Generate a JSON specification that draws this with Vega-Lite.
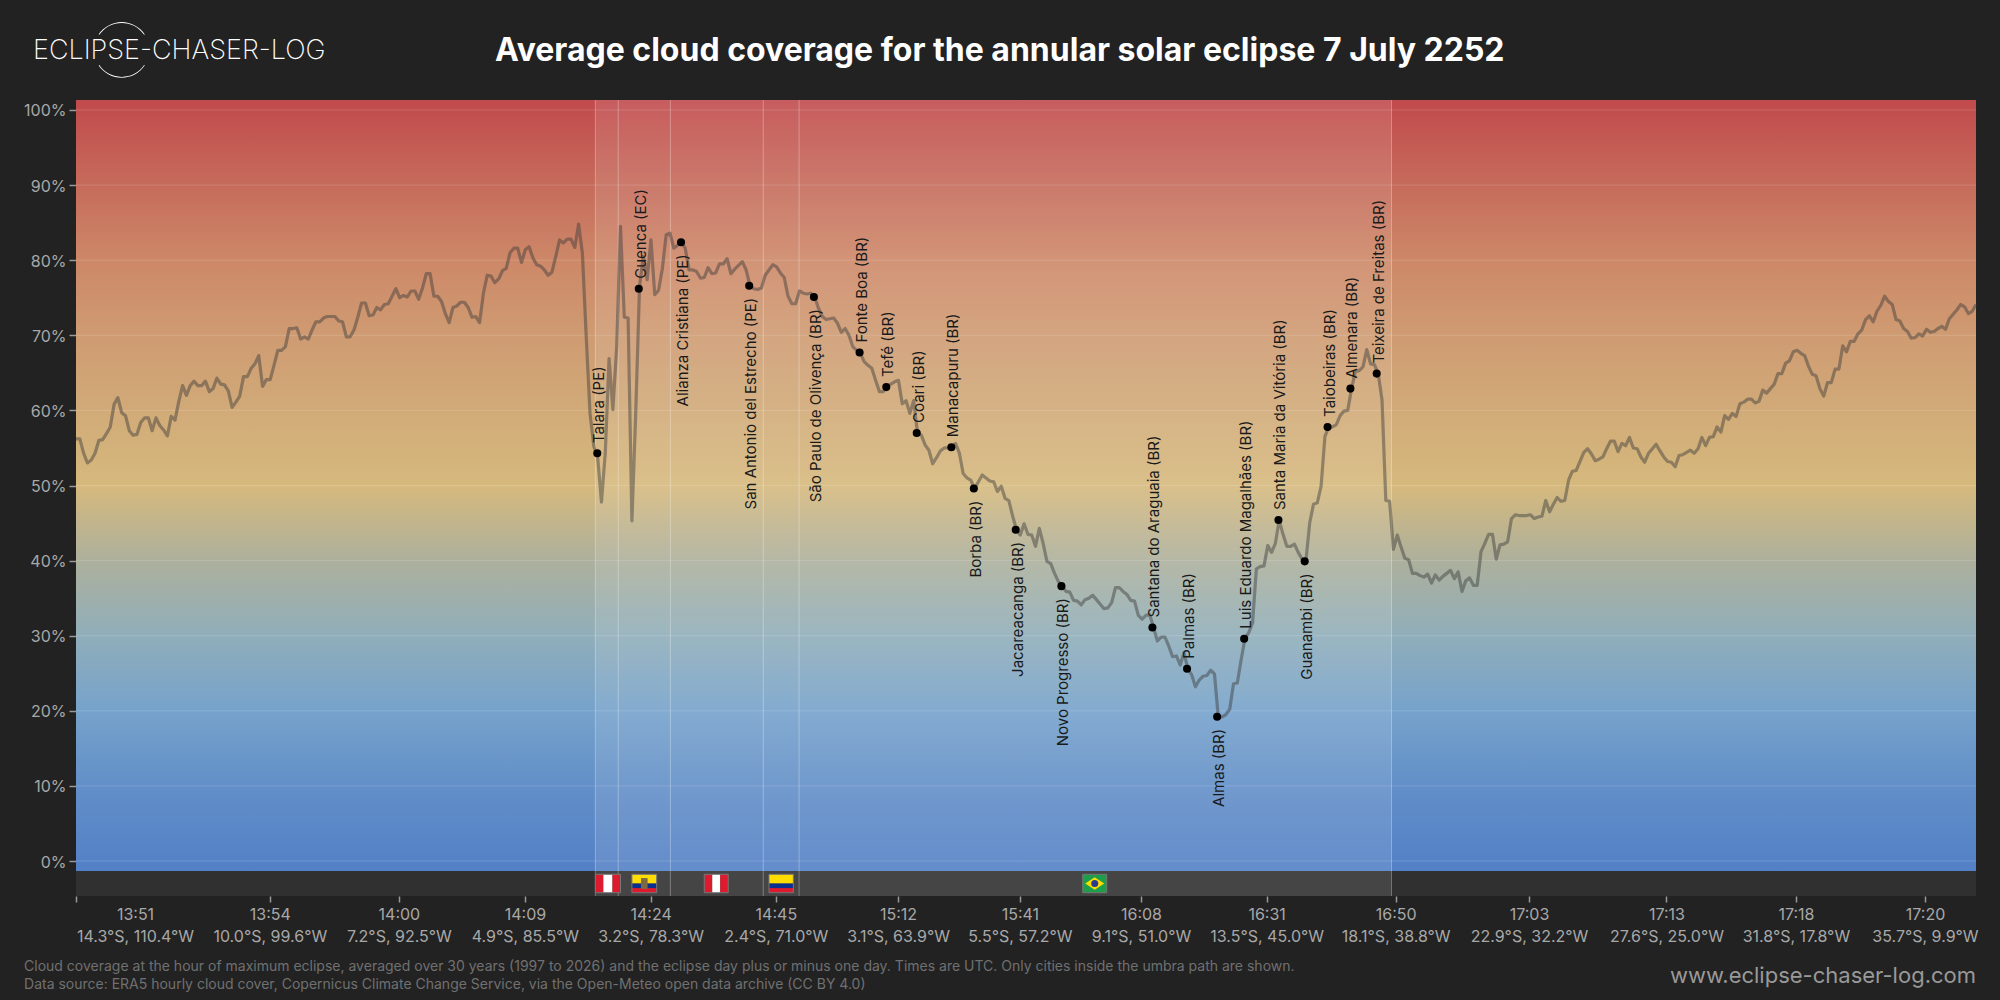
{"$schema":"https://vega.github.io/schema/vega-lite/v6.json","width":1900,"height":771,"autosize":{"type":"none"},"padding":{"left":76,"top":100,"right":24,"bottom":129},"background":"#222222","datasets":{"cloud":[{"i":0,"v":56.2},{"i":1,"v":56.2},{"i":2,"v":54.3},{"i":3,"v":53.0},{"i":4,"v":53.4},{"i":5,"v":54.3},{"i":6,"v":56.0},{"i":7,"v":56.1},{"i":8,"v":56.9},{"i":9,"v":57.8},{"i":10,"v":60.8},{"i":11,"v":61.7},{"i":12,"v":59.7},{"i":13,"v":59.3},{"i":14,"v":57.3},{"i":15,"v":56.7},{"i":16,"v":56.8},{"i":17,"v":58.4},{"i":18,"v":59.0},{"i":19,"v":59.0},{"i":20,"v":57.3},{"i":21,"v":59.0},{"i":22,"v":58.0},{"i":23,"v":57.4},{"i":24,"v":56.6},{"i":25,"v":59.2},{"i":26,"v":58.7},{"i":27,"v":61.2},{"i":28,"v":63.3},{"i":29,"v":62.0},{"i":30,"v":63.3},{"i":31,"v":63.9},{"i":32,"v":63.3},{"i":33,"v":63.3},{"i":34,"v":63.9},{"i":35,"v":62.5},{"i":36,"v":62.9},{"i":37,"v":64.3},{"i":38,"v":63.5},{"i":39,"v":63.4},{"i":40,"v":62.6},{"i":41,"v":60.4},{"i":42,"v":61.1},{"i":43,"v":61.9},{"i":44,"v":64.5},{"i":45,"v":64.5},{"i":46,"v":65.6},{"i":47,"v":66.2},{"i":48,"v":67.3},{"i":49,"v":63.2},{"i":50,"v":64.1},{"i":51,"v":64.1},{"i":52,"v":66.0},{"i":53,"v":68.0},{"i":54,"v":68.0},{"i":55,"v":68.5},{"i":56,"v":70.9},{"i":57,"v":70.9},{"i":58,"v":71.0},{"i":59,"v":69.5},{"i":60,"v":69.8},{"i":61,"v":69.5},{"i":62,"v":70.7},{"i":63,"v":71.8},{"i":64,"v":71.8},{"i":65,"v":72.3},{"i":66,"v":72.5},{"i":67,"v":72.5},{"i":68,"v":72.5},{"i":69,"v":71.9},{"i":70,"v":71.8},{"i":71,"v":69.8},{"i":72,"v":69.8},{"i":73,"v":70.7},{"i":74,"v":72.4},{"i":75,"v":74.3},{"i":76,"v":74.3},{"i":77,"v":72.6},{"i":78,"v":72.7},{"i":79,"v":73.7},{"i":80,"v":73.4},{"i":81,"v":74.1},{"i":82,"v":74.2},{"i":83,"v":75.2},{"i":84,"v":76.2},{"i":85,"v":75.0},{"i":86,"v":75.3},{"i":87,"v":75.1},{"i":88,"v":75.9},{"i":89,"v":75.9},{"i":90,"v":74.8},{"i":91,"v":76.3},{"i":92,"v":78.2},{"i":93,"v":78.2},{"i":94,"v":75.2},{"i":95,"v":75.2},{"i":96,"v":74.5},{"i":97,"v":72.9},{"i":98,"v":71.7},{"i":99,"v":73.7},{"i":100,"v":73.9},{"i":101,"v":74.4},{"i":102,"v":74.4},{"i":103,"v":73.7},{"i":104,"v":72.4},{"i":105,"v":72.5},{"i":106,"v":71.7},{"i":107,"v":75.6},{"i":108,"v":78.0},{"i":109,"v":77.9},{"i":110,"v":77.0},{"i":111,"v":77.5},{"i":112,"v":78.6},{"i":113,"v":78.9},{"i":114,"v":81.0},{"i":115,"v":81.6},{"i":116,"v":81.6},{"i":117,"v":79.7},{"i":118,"v":81.4},{"i":119,"v":81.8},{"i":120,"v":80.3},{"i":121,"v":79.4},{"i":122,"v":79.2},{"i":123,"v":78.7},{"i":124,"v":78.0},{"i":125,"v":78.4},{"i":126,"v":80.5},{"i":127,"v":82.7},{"i":128,"v":82.3},{"i":129,"v":82.8},{"i":130,"v":82.8},{"i":131,"v":81.7},{"i":132,"v":84.8},{"i":133,"v":80.9},{"i":134,"v":69.8},{"i":135,"v":59.6},{"i":136,"v":55.2},{"i":137,"v":53.8},{"i":138,"v":47.8},{"i":139,"v":54.3},{"i":140,"v":66.9},{"i":141,"v":60.1},{"i":142,"v":68.5},{"i":143,"v":84.5},{"i":144,"v":72.4},{"i":145,"v":72.3},{"i":146,"v":45.3},{"i":147,"v":59.6},{"i":148,"v":76.5},{"i":149,"v":80.5},{"i":150,"v":77.4},{"i":151,"v":82.7},{"i":152,"v":75.4},{"i":153,"v":76.0},{"i":154,"v":78.9},{"i":155,"v":83.4},{"i":156,"v":83.6},{"i":157,"v":81.6},{"i":158,"v":82.0},{"i":159,"v":82.4},{"i":160,"v":81.6},{"i":161,"v":78.7},{"i":162,"v":78.7},{"i":163,"v":78.5},{"i":164,"v":77.6},{"i":165,"v":77.7},{"i":166,"v":79.0},{"i":167,"v":78.2},{"i":168,"v":78.3},{"i":169,"v":79.5},{"i":170,"v":79.5},{"i":171,"v":80.2},{"i":172,"v":78.2},{"i":173,"v":78.8},{"i":174,"v":79.3},{"i":175,"v":79.8},{"i":176,"v":78.7},{"i":177,"v":76.6},{"i":178,"v":76.2},{"i":179,"v":76.1},{"i":180,"v":76.3},{"i":181,"v":78.0},{"i":182,"v":78.7},{"i":183,"v":79.4},{"i":184,"v":79.1},{"i":185,"v":78.3},{"i":186,"v":77.7},{"i":187,"v":75.2},{"i":188,"v":74.2},{"i":189,"v":74.2},{"i":190,"v":75.9},{"i":191,"v":75.6},{"i":192,"v":75.5},{"i":193,"v":75.6},{"i":194,"v":75.1},{"i":195,"v":73.6},{"i":196,"v":72.5},{"i":197,"v":72.1},{"i":198,"v":72.2},{"i":199,"v":72.3},{"i":200,"v":71.6},{"i":201,"v":70.4},{"i":202,"v":70.9},{"i":203,"v":70.0},{"i":204,"v":68.5},{"i":205,"v":68.0},{"i":206,"v":67.6},{"i":207,"v":66.5},{"i":208,"v":66.0},{"i":209,"v":65.6},{"i":210,"v":64.0},{"i":211,"v":62.5},{"i":212,"v":62.5},{"i":213,"v":63.2},{"i":214,"v":63.5},{"i":215,"v":63.8},{"i":216,"v":64.0},{"i":217,"v":60.9},{"i":218,"v":61.3},{"i":219,"v":59.6},{"i":220,"v":61.3},{"i":221,"v":57.0},{"i":222,"v":56.7},{"i":223,"v":55.4},{"i":224,"v":54.7},{"i":225,"v":52.9},{"i":226,"v":53.7},{"i":227,"v":54.6},{"i":228,"v":55.0},{"i":229,"v":55.0},{"i":230,"v":55.1},{"i":231,"v":55.6},{"i":232,"v":54.3},{"i":233,"v":51.6},{"i":234,"v":51.0},{"i":235,"v":50.7},{"i":236,"v":49.6},{"i":237,"v":50.5},{"i":238,"v":51.4},{"i":239,"v":51.0},{"i":240,"v":50.6},{"i":241,"v":50.5},{"i":242,"v":49.2},{"i":243,"v":49.9},{"i":244,"v":48.3},{"i":245,"v":48.0},{"i":246,"v":45.9},{"i":247,"v":44.1},{"i":248,"v":43.4},{"i":249,"v":44.9},{"i":250,"v":43.5},{"i":251,"v":43.4},{"i":252,"v":41.9},{"i":253,"v":44.3},{"i":254,"v":42.3},{"i":255,"v":39.9},{"i":256,"v":39.6},{"i":257,"v":38.3},{"i":258,"v":37.2},{"i":259,"v":36.6},{"i":260,"v":35.9},{"i":261,"v":35.8},{"i":262,"v":34.7},{"i":263,"v":34.6},{"i":264,"v":34.1},{"i":265,"v":34.8},{"i":266,"v":35.0},{"i":267,"v":35.4},{"i":268,"v":34.8},{"i":269,"v":34.2},{"i":270,"v":33.6},{"i":271,"v":33.7},{"i":272,"v":34.4},{"i":273,"v":36.4},{"i":274,"v":36.4},{"i":275,"v":35.9},{"i":276,"v":35.5},{"i":277,"v":34.7},{"i":278,"v":34.6},{"i":279,"v":32.7},{"i":280,"v":32.2},{"i":281,"v":32.7},{"i":282,"v":32.8},{"i":283,"v":31.1},{"i":284,"v":29.3},{"i":285,"v":29.8},{"i":286,"v":29.8},{"i":287,"v":28.6},{"i":288,"v":27.2},{"i":289,"v":27.3},{"i":290,"v":26.1},{"i":291,"v":27.7},{"i":292,"v":25.6},{"i":293,"v":24.8},{"i":294,"v":23.2},{"i":295,"v":24.1},{"i":296,"v":24.6},{"i":297,"v":24.7},{"i":298,"v":25.4},{"i":299,"v":24.9},{"i":300,"v":19.2},{"i":301,"v":19.2},{"i":302,"v":19.5},{"i":303,"v":20.2},{"i":304,"v":23.6},{"i":305,"v":23.7},{"i":306,"v":26.8},{"i":307,"v":29.6},{"i":308,"v":30.4},{"i":309,"v":31.7},{"i":310,"v":38.9},{"i":311,"v":39.2},{"i":312,"v":39.3},{"i":313,"v":42.0},{"i":314,"v":41.1},{"i":315,"v":42.3},{"i":316,"v":45.4},{"i":317,"v":43.5},{"i":318,"v":41.9},{"i":319,"v":41.9},{"i":320,"v":42.2},{"i":321,"v":41.1},{"i":322,"v":40.2},{"i":323,"v":39.9},{"i":324,"v":45.0},{"i":325,"v":47.5},{"i":326,"v":47.7},{"i":327,"v":49.9},{"i":328,"v":56.5},{"i":329,"v":57.8},{"i":330,"v":57.8},{"i":331,"v":58.1},{"i":332,"v":59.3},{"i":333,"v":59.9},{"i":334,"v":60.0},{"i":335,"v":62.9},{"i":336,"v":65.2},{"i":337,"v":65.3},{"i":338,"v":65.8},{"i":339,"v":68.1},{"i":340,"v":66.2},{"i":341,"v":66.1},{"i":342,"v":64.9},{"i":343,"v":61.4},{"i":344,"v":48.0},{"i":345,"v":47.9},{"i":346,"v":41.5},{"i":347,"v":43.4},{"i":348,"v":41.8},{"i":349,"v":40.3},{"i":350,"v":40.1},{"i":351,"v":38.3},{"i":352,"v":38.3},{"i":353,"v":38.0},{"i":354,"v":37.8},{"i":355,"v":38.2},{"i":356,"v":37.0},{"i":357,"v":38.1},{"i":358,"v":37.4},{"i":359,"v":37.9},{"i":360,"v":38.3},{"i":361,"v":38.7},{"i":362,"v":37.6},{"i":363,"v":38.5},{"i":364,"v":35.9},{"i":365,"v":37.3},{"i":366,"v":37.7},{"i":367,"v":36.7},{"i":368,"v":36.7},{"i":369,"v":41.2},{"i":370,"v":42.3},{"i":371,"v":43.5},{"i":372,"v":43.5},{"i":373,"v":40.2},{"i":374,"v":42.1},{"i":375,"v":42.2},{"i":376,"v":42.5},{"i":377,"v":45.6},{"i":378,"v":46.1},{"i":379,"v":46.0},{"i":380,"v":46.0},{"i":381,"v":46.0},{"i":382,"v":46.1},{"i":383,"v":45.6},{"i":384,"v":45.8},{"i":385,"v":45.9},{"i":386,"v":48.0},{"i":387,"v":46.5},{"i":388,"v":47.5},{"i":389,"v":48.4},{"i":390,"v":47.9},{"i":391,"v":48.0},{"i":392,"v":50.7},{"i":393,"v":51.9},{"i":394,"v":52.0},{"i":395,"v":53.2},{"i":396,"v":54.4},{"i":397,"v":54.9},{"i":398,"v":54.2},{"i":399,"v":53.3},{"i":400,"v":53.5},{"i":401,"v":53.8},{"i":402,"v":54.9},{"i":403,"v":55.9},{"i":404,"v":55.9},{"i":405,"v":54.5},{"i":406,"v":55.6},{"i":407,"v":55.3},{"i":408,"v":56.4},{"i":409,"v":55.0},{"i":410,"v":54.9},{"i":411,"v":53.8},{"i":412,"v":53.1},{"i":413,"v":54.3},{"i":414,"v":54.9},{"i":415,"v":55.5},{"i":416,"v":54.6},{"i":417,"v":53.8},{"i":418,"v":53.2},{"i":419,"v":53.1},{"i":420,"v":52.5},{"i":421,"v":54.0},{"i":422,"v":54.1},{"i":423,"v":54.4},{"i":424,"v":54.7},{"i":425,"v":54.3},{"i":426,"v":54.9},{"i":427,"v":56.4},{"i":428,"v":55.3},{"i":429,"v":56.4},{"i":430,"v":56.5},{"i":431,"v":57.8},{"i":432,"v":57.1},{"i":433,"v":59.3},{"i":434,"v":58.8},{"i":435,"v":59.6},{"i":436,"v":59.2},{"i":437,"v":60.9},{"i":438,"v":61.1},{"i":439,"v":61.5},{"i":440,"v":61.5},{"i":441,"v":61.0},{"i":442,"v":61.2},{"i":443,"v":62.7},{"i":444,"v":62.3},{"i":445,"v":62.9},{"i":446,"v":63.5},{"i":447,"v":64.9},{"i":448,"v":64.9},{"i":449,"v":66.3},{"i":450,"v":66.6},{"i":451,"v":67.8},{"i":452,"v":68.0},{"i":453,"v":67.6},{"i":454,"v":67.3},{"i":455,"v":65.9},{"i":456,"v":64.8},{"i":457,"v":64.6},{"i":458,"v":62.9},{"i":459,"v":61.9},{"i":460,"v":63.7},{"i":461,"v":63.7},{"i":462,"v":65.5},{"i":463,"v":65.5},{"i":464,"v":68.6},{"i":465,"v":67.8},{"i":466,"v":69.2},{"i":467,"v":69.2},{"i":468,"v":70.2},{"i":469,"v":70.7},{"i":470,"v":72.1},{"i":471,"v":72.6},{"i":472,"v":71.8},{"i":473,"v":73.2},{"i":474,"v":74.0},{"i":475,"v":75.2},{"i":476,"v":74.5},{"i":477,"v":74.1},{"i":478,"v":72.1},{"i":479,"v":71.9},{"i":480,"v":70.9},{"i":481,"v":70.5},{"i":482,"v":69.6},{"i":483,"v":69.7},{"i":484,"v":70.2},{"i":485,"v":69.9},{"i":486,"v":70.8},{"i":487,"v":70.4},{"i":488,"v":70.5},{"i":489,"v":70.9},{"i":490,"v":71.2},{"i":491,"v":70.8},{"i":492,"v":72.2},{"i":493,"v":72.8},{"i":494,"v":73.4},{"i":495,"v":74.1},{"i":496,"v":73.8},{"i":497,"v":72.9},{"i":498,"v":73.2},{"i":499,"v":74.1}],"cities":[{"city":"Talara (PE)","i":136.9,"v":54.3,"side":"above"},{"city":"Cuenca (EC)","i":147.8,"v":76.2,"side":"above"},{"city":"Alianza Cristiana (PE)","i":158.9,"v":82.4,"side":"below"},{"city":"San Antonio del Estrecho (PE)","i":176.8,"v":76.6,"side":"below"},{"city":"São Paulo de Olivença (BR)","i":193.8,"v":75.1,"side":"below"},{"city":"Fonte Boa (BR)","i":205.8,"v":67.7,"side":"above"},{"city":"Tefé (BR)","i":212.8,"v":63.1,"side":"above"},{"city":"Coari (BR)","i":220.8,"v":57.0,"side":"above"},{"city":"Manacapuru (BR)","i":229.9,"v":55.1,"side":"above"},{"city":"Borba (BR)","i":235.8,"v":49.6,"side":"below"},{"city":"Jacareacanga (BR)","i":246.8,"v":44.1,"side":"below"},{"city":"Novo Progresso (BR)","i":258.8,"v":36.6,"side":"below"},{"city":"Santana do Araguaia (BR)","i":282.7,"v":31.1,"side":"above"},{"city":"Palmas (BR)","i":291.8,"v":25.6,"side":"above"},{"city":"Almas (BR)","i":299.7,"v":19.2,"side":"below"},{"city":"Luis Eduardo Magalhães (BR)","i":306.8,"v":29.6,"side":"above"},{"city":"Santa Maria da Vitória (BR)","i":315.8,"v":45.4,"side":"above"},{"city":"Guanambi (BR)","i":322.7,"v":39.9,"side":"below"},{"city":"Taiobeiras (BR)","i":328.7,"v":57.8,"side":"above"},{"city":"Almenara (BR)","i":334.7,"v":62.9,"side":"above"},{"city":"Teixeira de Freitas (BR)","i":341.6,"v":64.9,"side":"above"}],"borders":[{"i":136.4,"v":-4.66,"v2":101.33},{"i":142.4,"v":-4.66,"v2":101.33},{"i":156.1,"v":-4.66,"v2":101.33},{"i":180.5,"v":-4.66,"v2":101.33},{"i":189.9,"v":-4.66,"v2":101.33},{"i":345.5,"v":-4.66,"v2":101.33}],"gridLines":[{"v":0,"i":0,"i2":499},{"v":10,"i":0,"i2":499},{"v":20,"i":0,"i2":499},{"v":30,"i":0,"i2":499},{"v":40,"i":0,"i2":499},{"v":50,"i":0,"i2":499},{"v":60,"i":0,"i2":499},{"v":70,"i":0,"i2":499},{"v":80,"i":0,"i2":499},{"v":90,"i":0,"i2":499},{"v":100,"i":0,"i2":499}],"flagParts":[{"i":136.4,"i2":138.5,"v":-1.77,"v2":-4.22,"part":"red"},{"i":138.5,"i2":140.9,"v":-1.77,"v2":-4.22,"part":"white"},{"i":140.9,"i2":143.0,"v":-1.77,"v2":-4.22,"part":"red"},{"i":146.0,"i2":152.5,"v":-1.77,"v2":-3.0,"part":"yellow"},{"i":146.0,"i2":152.5,"v":-3.0,"v2":-3.61,"part":"blue"},{"i":146.0,"i2":152.5,"v":-3.61,"v2":-4.22,"part":"red"},{"i":165.0,"i2":167.1,"v":-1.77,"v2":-4.22,"part":"red"},{"i":167.1,"i2":169.2,"v":-1.77,"v2":-4.22,"part":"white"},{"i":169.2,"i2":171.3,"v":-1.77,"v2":-4.22,"part":"red"},{"i":182.0,"i2":188.4,"v":-1.77,"v2":-3.0,"part":"yellow"},{"i":182.0,"i2":188.4,"v":-3.0,"v2":-3.61,"part":"blue"},{"i":182.0,"i2":188.4,"v":-3.61,"v2":-4.22,"part":"red"},{"i":264.4,"i2":270.7,"v":-1.77,"v2":-4.22,"part":"green"}],"flagBoxes":[{"i":136.4,"i2":143.0,"v":-1.77,"v2":-4.22},{"i":146.0,"i2":152.5,"v":-1.77,"v2":-4.22},{"i":165.0,"i2":171.3,"v":-1.77,"v2":-4.22},{"i":182.0,"i2":188.4,"v":-1.77,"v2":-4.22},{"i":264.4,"i2":270.7,"v":-1.77,"v2":-4.22}],"one":[{"i":0,"v":0}]},"encoding":{"x":{"field":"i","type":"quantitative","title":null,"scale":{"domain":[0,499],"nice":false,"zero":false},"axis":{"values":[0,50.9,84.8,117.9,150.9,183.8,215.9,247.9,279.7,312.7,346.6,381.6,417.7,451.7,485.6],"labelExpr":"{'0':['13:51','14.3°S, 110.4°W'],'50.9':['13:54','10.0°S, 99.6°W'],'84.8':['14:00','7.2°S, 92.5°W'],'117.9':['14:09','4.9°S, 85.5°W'],'150.9':['14:24','3.2°S, 78.3°W'],'183.8':['14:45','2.4°S, 71.0°W'],'215.9':['15:12','3.1°S, 63.9°W'],'247.9':['15:41','5.5°S, 57.2°W'],'279.7':['16:08','9.1°S, 51.0°W'],'312.7':['16:31','13.5°S, 45.0°W'],'346.6':['16:50','18.1°S, 38.8°W'],'381.6':['17:03','22.9°S, 32.2°W'],'417.7':['17:13','27.6°S, 25.0°W'],'451.7':['17:18','31.8°S, 17.8°W'],'485.6':['17:20','35.7°S, 9.9°W']}[datum.value]","labelOffset":{"condition":{"test":"datum.value == 0","value":59},"value":0},"offset":25,"domain":false,"grid":false,"tickColor":"#999999","tickSize":6,"tickWidth":1.5,"labelColor":"#a8a8a8","labelFont":"Inter","labelFontSize":16,"labelLineHeight":22,"labelPadding":4,"labelOverlap":false,"labelBound":false,"labelFlush":false}},"y":{"field":"v","type":"quantitative","title":null,"scale":{"domain":[-1.33,101.33],"nice":false,"zero":false},"axis":{"values":[0,10,20,30,40,50,60,70,80,90,100],"labelExpr":"datum.value + '%'","labelOffset":1,"domain":false,"grid":false,"tickColor":"#999999","tickSize":7,"tickWidth":1.5,"labelColor":"#a8a8a8","labelFont":"Inter","labelFontSize":16,"labelPadding":3,"labelOverlap":false}}},"layer":[{"data":{"values":[{"i":0,"i2":505.3,"v":-1.33,"v2":101.33}]},"mark":{"type":"rect","color":{"gradient":"linear","x1":0,"y1":0,"x2":0,"y2":1,"stops":[{"offset":0,"color":"#c14a4c"},{"offset":0.11,"color":"#c66b5b"},{"offset":0.208,"color":"#cd8868"},{"offset":0.305,"color":"#cf9b72"},{"offset":0.402,"color":"#d1aa78"},{"offset":0.5,"color":"#d6b97d"},{"offset":0.597,"color":"#adb09c"},{"offset":0.695,"color":"#90aeba"},{"offset":0.792,"color":"#76a2cb"},{"offset":0.89,"color":"#628fc8"},{"offset":1,"color":"#5380c6"}]}},"encoding":{"x2":{"field":"i2"},"y2":{"field":"v2"}}},{"data":{"values":[{"i":499,"i2":506,"v":-4.7,"v2":101.4}]},"mark":{"type":"rect","color":"#222222"},"encoding":{"x2":{"field":"i2"},"y2":{"field":"v2"}}},{"data":{"values":[{"i":0,"i2":499,"v":-1.33,"v2":-4.66}]},"mark":{"type":"rect","color":"#303030"},"encoding":{"x2":{"field":"i2"},"y2":{"field":"v2"}}},{"data":{"name":"gridLines"},"mark":{"type":"rule","color":"#ffffff","opacity":0.15,"strokeWidth":1},"encoding":{"x2":{"field":"i2"}}},{"data":{"values":[{"i":136.4,"i2":345.5,"v":-4.66,"v2":101.33}]},"mark":{"type":"rect","color":"#ffffff","opacity":0.1},"encoding":{"x2":{"field":"i2"},"y2":{"field":"v2"}}},{"data":{"name":"borders"},"mark":{"type":"rule","color":"#ffffff","opacity":0.3,"strokeWidth":1},"encoding":{"y2":{"field":"v2"}}},{"data":{"name":"flagParts"},"mark":{"type":"rect"},"encoding":{"x2":{"field":"i2"},"y2":{"field":"v2"},"color":{"field":"part","type":"nominal","legend":null,"scale":{"domain":["red","white","yellow","blue","green"],"range":["#dd1a2e","#ffffff","#ffdd00","#0a2f8f","#1e9e4a"]}}}},{"data":{"name":"flagBoxes"},"mark":{"type":"rect","filled":false,"stroke":"#777777","strokeWidth":1},"encoding":{"x2":{"field":"i2"},"y2":{"field":"v2"}}},{"data":{"name":"one"},"mark":{"type":"point","filled":true,"color":"#ffdd00","opacity":1,"size":361,"shape":"M-1,0L0,-.65L1,0L0,.65Z"},"encoding":{"x":{"datum":267.55},"y":{"datum":-3}}},{"data":{"name":"one"},"mark":{"type":"point","filled":true,"color":"#2b3c8f","opacity":1,"size":50},"encoding":{"x":{"datum":267.55},"y":{"datum":-3}}},{"data":{"name":"one"},"mark":{"type":"point","filled":true,"color":"#7d6a45","opacity":1,"size":120,"shape":"M-.6,-1L.6,-1L.6,1L-.6,1Z"},"encoding":{"x":{"datum":149.25},"y":{"datum":-3}}},{"data":{"name":"cloud"},"mark":{"type":"line","color":"#3a3a3a","opacity":0.46,"strokeWidth":3.2,"strokeJoin":"round"}},{"data":{"name":"cities"},"mark":{"type":"point","filled":true,"color":"#000000","opacity":1,"size":65}},{"data":{"name":"cities"},"transform":[{"filter":"datum.side == 'above'"}],"mark":{"type":"text","angle":270,"align":"left","baseline":"middle","dx":10,"dy":2,"font":"Inter","fontSize":15,"color":"#1a1a1a"},"encoding":{"text":{"field":"city"}}},{"data":{"name":"cities"},"transform":[{"filter":"datum.side == 'below'"}],"mark":{"type":"text","angle":270,"align":"right","baseline":"middle","dx":-12,"dy":2,"font":"Inter","fontSize":15,"color":"#1a1a1a"},"encoding":{"text":{"field":"city"}}},{"data":{"name":"one"},"mark":{"type":"text","align":"center","baseline":"middle","font":"Inter","fontWeight":700,"fontSize":32,"color":"#ffffff","text":"Average cloud coverage for the annular solar eclipse 7 July 2252"},"encoding":{"x":{"datum":242.6},"y":{"datum":107.85}}},{"data":{"name":"one"},"mark":{"type":"text","align":"left","baseline":"middle","font":"Inter","fontWeight":200,"fontSize":27,"color":"#ffffff","text":"ECLIPSE-CHASER-LOG"},"encoding":{"x":{"datum":-11.3},"y":{"datum":107.9}}},{"data":{"name":"one"},"mark":{"type":"arc","radius":27.8,"radius2":27,"theta":-0.98,"theta2":0.98,"color":"#ffffff"},"encoding":{"x":{"datum":12},"y":{"datum":108}}},{"data":{"name":"one"},"mark":{"type":"arc","radius":27.8,"radius2":27,"theta":2.16,"theta2":4.12,"color":"#ffffff"},"encoding":{"x":{"datum":12},"y":{"datum":108}}},{"data":{"name":"one"},"mark":{"type":"text","align":"left","baseline":"top","font":"Inter","fontSize":14,"lineHeight":18,"color":"#707070","text":["Cloud coverage at the hour of maximum eclipse, averaged over 30 years (1997 to 2026) and the eclipse day plus or minus one day. Times are UTC. Only cities inside the umbra path are shown.","Data source: ERA5 hourly cloud cover, Copernicus Climate Change Service, via the Open-Meteo open data archive (CC BY 4.0)"]},"encoding":{"x":{"datum":-13.65},"y":{"datum":-13.2}}},{"data":{"name":"one"},"mark":{"type":"text","align":"right","baseline":"middle","font":"Inter","fontSize":22,"color":"#999999","text":"www.eclipse-chaser-log.com"},"encoding":{"x":{"datum":499},"y":{"datum":-15.3}}}]}
